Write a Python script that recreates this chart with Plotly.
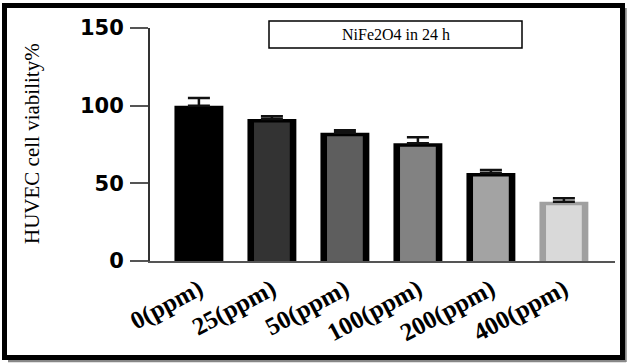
import plotly.graph_objects as go

categories = ["0(ppm)", "25(ppm)", "50(ppm)", "100(ppm)", "200(ppm)", "400(ppm)"]
viability = [100, 91.4, 82.6, 75.8, 56.7, 38.2]
err_up = [5.0, 1.8, 1.6, 3.8, 1.9, 2.2]
y_ticks = [0, 50, 100, 150]
title_text = "NiFe2O4 in 24 h"
y_title = "HUVEC cell viability%"

fill_colors = ["#000000", "#333333", "#5e5e5e", "#828282", "#a3a3a3", "#d9d9d9"]
border_colors = ["#000000", "#000000", "#000000", "#000000", "#000000", "#a0a0a0"]
top_border = 2.3  # border thickness in data units at the top of each bar

W, H = 627, 364
L, R, T, B = 150, 12, 28, 103
pw, ph = W - L - R, H - T - B

def px_x(p):
    return (p - L) / pw

def px_y(p):
    return (H - B - p) / ph

xs = list(range(len(categories)))

fig = go.Figure()
# outer (border) bars
fig.add_trace(go.Bar(
    x=xs, y=viability, width=0.67,
    marker=dict(color=border_colors, line=dict(width=0)),
    error_y=dict(type="data", symmetric=False, array=err_up,
                 arrayminus=[0] * len(err_up),
                 color="#111111", thickness=2.5, width=11),
    showlegend=False, hoverinfo="skip",
))
# inner (fill) bars
fig.add_trace(go.Bar(
    x=xs, y=[v - top_border for v in viability], width=0.49,
    marker=dict(color=fill_colors, line=dict(width=0)),
    showlegend=False, hoverinfo="skip",
))

fig.update_layout(
    width=W, height=H,
    barmode="overlay",
    margin=dict(l=L, r=R, t=T, b=B, autoexpand=False),
    plot_bgcolor="white", paper_bgcolor="white",
    xaxis=dict(
        range=[-0.67, 5.70],
        automargin=False,
        tickmode="array",
        tickvals=xs,
        ticktext=categories,
        tickangle=-28,
        ticks="",
        showline=True, linecolor="#555555", linewidth=2,
        showgrid=False, zeroline=False,
        tickfont=dict(family="Liberation Serif", size=25, color="black", weight="bold"),
        ticklabelstandoff=2,
    ),
    yaxis=dict(
        range=[0, 150],
        automargin=False,
        tickmode="array",
        tickvals=y_ticks,
        ticks="outside", ticklen=18, tickwidth=2, tickcolor="#555555",
        showline=True, linecolor="#333333", linewidth=2,
        showgrid=False, zeroline=False,
        tickfont=dict(family="DejaVu Sans", size=21, color="black", weight="bold"),
        ticklabelstandoff=2,
    ),
    shapes=[
        dict(type="rect", xref="paper", yref="paper",
             x0=px_x(269), x1=px_x(522), y0=px_y(48), y1=px_y(21),
             line=dict(color="black", width=1.5), fillcolor="white", layer="above"),
        dict(type="line", xref="paper", yref="paper",
             x0=px_x(625.5), x1=px_x(625.5), y0=px_y(8), y1=px_y(362),
             line=dict(color="#888888", width=2.5), layer="above"),
        dict(type="line", xref="paper", yref="paper",
             x0=px_x(8), x1=px_x(626), y0=px_y(361), y1=px_y(361),
             line=dict(color="#888888", width=2.5), layer="above"),
        dict(type="rect", xref="paper", yref="paper",
             x0=px_x(4.5), x1=px_x(622.5), y0=px_y(357.5), y1=px_y(5.5),
             line=dict(color="black", width=5), fillcolor="rgba(0,0,0,0)", layer="above"),
    ],
    annotations=[
        dict(text=title_text, xref="paper", yref="paper",
             x=px_x(395.5), y=px_y(34.5), xanchor="center", yanchor="middle",
             showarrow=False,
             font=dict(family="Liberation Serif", size=16, color="black")),
        dict(text=y_title, xref="paper", yref="paper",
             x=px_x(32), y=px_y(143), xanchor="center", yanchor="middle",
             textangle=-90, showarrow=False,
             font=dict(family="Liberation Serif", size=21, color="black")),
    ],
)

fig.write_html("out.html", config={"displayModeBar": False},
               post_script="document.body.style.margin='0';document.body.style.overflow='hidden';")
